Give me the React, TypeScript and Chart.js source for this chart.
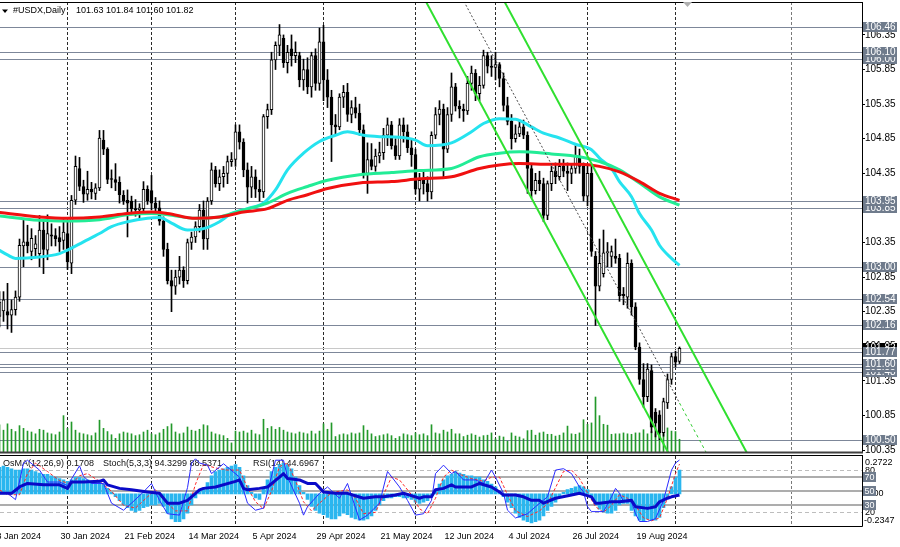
import React, { useEffect, useRef } from "react";
import { Chart, registerables } from "chart.js";
Chart.register(...registerables);

const FONT = "'Liberation Sans', Arial, sans-serif";
Chart.defaults.font.family = FONT;

// ---------- axis / label data ----------
const tickIdx = [0, 16, 32, 48, 64, 80, 96, 112, 128, 144, 160];
const tickLabels = ["8 Jan 2024", "30 Jan 2024", "21 Feb 2024", "14 Mar 2024", "5 Apr 2024", "29 Apr 2024", "21 May 2024", "12 Jun 2024", "4 Jul 2024", "26 Jul 2024", "19 Aug 2024"];
const monthSepIdx = [18, 39, 60, 82, 105, 125, 148, 170, 199];
const priceTicks = [100.35, 100.85, 101.35, 101.85, 102.35, 102.85, 103.35, 103.85, 104.35, 104.85, 105.35, 105.85, 106.35];
const levelPrices = [100.5, 101.48, 101.55, 101.6, 101.77, 102.16, 102.54, 103.0, 103.85, 103.95, 106.0, 106.1, 106.46];
const lastPrice = 101.82;
const symbolTitle = "#USDX,Daily";
const headerOHLC = "101.63 101.84 101.60 101.82";
const indTitles = ["OsMA(12,26,9) 0.1708", "Stoch(5,3,3) 94.3299 88.5371", "RSI(14) 44.6967"];
const osmaRange = [-0.2347, 0.2722];
const oscLevelsDashed = [80, 20];
const oscLevelsSolid = [70, 50, 30];

// ---------- candles [open, high, low, close], 8 Jan 2024 .. 3 Sep 2024 ----------
const candles: number[][] = [
  // Jan
  [102.40, 102.50, 102.15, 102.20], [102.28, 102.64, 102.13, 102.49], [102.36, 102.64, 102.21, 102.52], [102.35, 102.76, 102.10, 102.30],
  [102.30, 102.52, 102.05, 102.38], [102.38, 102.65, 102.30, 102.56], [102.56, 103.40, 102.50, 103.31], [103.30, 103.67, 103.00, 103.36],
  [103.36, 103.60, 103.20, 103.30], [103.22, 103.55, 103.10, 103.41], [103.26, 103.45, 103.15, 103.33], [103.19, 103.74, 103.00, 103.53],
  [103.53, 103.67, 102.90, 103.25], [103.24, 103.75, 103.10, 103.48], [103.46, 103.62, 103.30, 103.44], [103.45, 103.55, 103.30, 103.40],
  [103.42, 103.58, 103.22, 103.36], [103.38, 103.68, 103.25, 103.50],
  // Feb
  [103.48, 103.67, 102.96, 103.07], [103.05, 104.03, 102.90, 103.96], [103.96, 104.60, 103.90, 104.45], [104.42, 104.58, 104.10, 104.16],
  [104.16, 104.25, 103.93, 104.05], [104.05, 104.38, 103.96, 104.12], [104.12, 104.22, 103.98, 104.08], [104.06, 104.20, 103.97, 104.14],
  [104.14, 104.97, 104.10, 104.86], [104.83, 104.97, 104.62, 104.70], [104.70, 104.72, 104.20, 104.26], [104.27, 104.40, 104.14, 104.26],
  [104.26, 104.49, 104.10, 104.22], [104.22, 104.30, 103.92, 104.04], [104.03, 104.10, 103.90, 103.95], [103.96, 104.11, 103.43, 103.92],
  [103.95, 104.02, 103.78, 103.84], [103.84, 103.97, 103.73, 103.82], [103.82, 103.91, 103.70, 103.85], [103.84, 104.23, 103.80, 104.12],
  [104.12, 104.17, 103.90, 103.95],
  // Mar
  [104.10, 104.32, 103.82, 103.92], [103.92, 104.00, 103.78, 103.85], [103.85, 103.95, 103.60, 103.66], [103.66, 103.72, 103.15, 103.25],
  [103.25, 103.34, 102.75, 102.80], [102.80, 102.95, 102.35, 102.72], [102.72, 102.95, 102.60, 102.85], [102.85, 103.15, 102.75, 102.95],
  [102.95, 103.00, 102.70, 102.80], [102.80, 103.40, 102.75, 103.35], [103.35, 103.50, 103.25, 103.43], [103.43, 103.65, 103.35, 103.58],
  [103.58, 103.90, 103.50, 103.82], [103.82, 103.95, 103.25, 103.40], [103.40, 104.00, 103.25, 103.95], [103.95, 104.50, 103.90, 104.40],
  [104.40, 104.45, 104.15, 104.20], [104.20, 104.40, 104.10, 104.30], [104.30, 104.45, 104.15, 104.35], [104.35, 104.60, 104.20, 104.52],
  [104.52, 104.65, 104.45, 104.55],
  // Apr
  [104.55, 105.05, 104.45, 104.95], [104.95, 105.05, 104.70, 104.80], [104.80, 104.85, 104.30, 104.40], [104.40, 104.50, 103.92, 104.15],
  [104.15, 104.45, 104.00, 104.30], [104.30, 104.40, 104.00, 104.12], [104.12, 104.25, 103.95, 104.08], [104.08, 105.20, 104.00, 105.17],
  [105.17, 105.35, 105.00, 105.27], [105.27, 106.10, 105.20, 105.99], [105.99, 106.25, 105.85, 106.20], [106.20, 106.50, 106.05, 106.35],
  [106.30, 106.35, 105.88, 105.95], [105.95, 106.20, 105.80, 106.10], [106.15, 106.35, 105.90, 106.05], [106.05, 106.25, 105.95, 106.10],
  [106.05, 106.10, 105.60, 105.70], [105.70, 106.00, 105.55, 105.85], [105.85, 106.02, 105.50, 105.60], [105.60, 106.10, 105.45, 106.05],
  [106.05, 106.15, 105.55, 105.65], [105.65, 106.45, 105.55, 106.25],
  // May
  [106.25, 106.49, 105.40, 105.70], [105.70, 105.85, 105.30, 105.45], [105.45, 105.55, 104.52, 105.05], [105.05, 105.20, 104.90, 105.02],
  [105.02, 105.50, 104.98, 105.45], [105.45, 105.62, 105.30, 105.52], [105.52, 105.65, 105.10, 105.20], [105.20, 105.40, 105.08, 105.30],
  [105.30, 105.45, 105.15, 105.22], [105.22, 105.35, 104.90, 104.98], [104.98, 105.05, 104.28, 104.35], [104.35, 104.79, 104.06, 104.55],
  [104.55, 104.78, 104.40, 104.45], [104.45, 104.70, 104.38, 104.60], [104.60, 104.80, 104.50, 104.65], [104.65, 105.00, 104.55, 104.90],
  [104.90, 105.15, 104.75, 105.05], [105.05, 105.10, 104.70, 104.75], [104.75, 104.85, 104.55, 104.60], [104.60, 105.14, 104.55, 105.05],
  [105.05, 105.15, 104.80, 104.95], [104.95, 105.05, 104.65, 104.72], [104.72, 104.85, 104.45, 104.62],
  // Jun
  [104.62, 104.70, 104.05, 104.12], [104.12, 104.35, 103.95, 104.25], [104.25, 104.40, 104.05, 104.20], [104.20, 104.30, 103.95, 104.08],
  [104.08, 104.95, 103.98, 104.90], [104.90, 105.30, 104.85, 105.20], [105.20, 105.40, 105.05, 105.28], [105.28, 105.35, 104.30, 104.70],
  [104.70, 105.30, 104.65, 105.20], [105.20, 105.80, 105.10, 105.60], [105.60, 105.65, 105.25, 105.32], [105.32, 105.40, 105.15, 105.28],
  [105.28, 105.35, 105.10, 105.25], [105.25, 105.75, 105.20, 105.65], [105.65, 105.90, 105.55, 105.80], [105.80, 105.85, 105.40, 105.50],
  [105.50, 105.75, 105.40, 105.62], [105.62, 106.13, 105.58, 106.05], [106.05, 106.10, 105.80, 105.90], [105.90, 106.05, 105.75, 105.88],
  // Jul
  [105.88, 106.10, 105.70, 105.92], [105.92, 105.95, 105.60, 105.72], [105.72, 105.80, 105.25, 105.33], [105.33, 105.45, 105.05, 105.10],
  [105.10, 105.20, 104.70, 104.85], [104.85, 105.05, 104.80, 104.92], [104.92, 105.12, 104.88, 105.02], [105.02, 105.12, 104.85, 104.90],
  [104.90, 104.95, 104.06, 104.42], [104.42, 104.48, 104.00, 104.10], [104.10, 104.35, 104.05, 104.25], [104.25, 104.38, 104.10, 104.20],
  [104.20, 104.28, 103.65, 103.74], [103.74, 104.24, 103.68, 104.20], [104.20, 104.45, 104.10, 104.38], [104.38, 104.50, 104.20, 104.30],
  [104.30, 104.55, 104.25, 104.45], [104.45, 104.55, 104.30, 104.38], [104.38, 104.50, 104.10, 104.35], [104.35, 104.48, 104.20, 104.42],
  [104.42, 104.75, 104.35, 104.60], [104.60, 104.70, 104.35, 104.45], [104.45, 104.50, 103.95, 104.02],
  // Aug
  [104.02, 104.48, 103.88, 104.35], [104.35, 104.45, 103.15, 103.22], [103.15, 103.22, 102.15, 102.72], [102.72, 103.40, 102.65, 103.05],
  [102.90, 103.53, 102.85, 103.20], [103.20, 103.35, 103.00, 103.22], [103.15, 103.30, 103.00, 103.22], [103.15, 103.40, 103.05, 103.12],
  [103.12, 103.18, 102.50, 102.58], [102.60, 102.70, 102.45, 102.58], [102.56, 103.20, 102.40, 103.05], [103.05, 103.10, 102.30, 102.42],
  [102.42, 102.48, 101.80, 101.84], [101.84, 101.90, 101.30, 101.37], [101.37, 101.60, 100.97, 101.12], [101.12, 101.60, 101.05, 101.52],
  [101.50, 101.58, 100.60, 100.68], [100.90, 100.95, 100.54, 100.74], [100.86, 100.92, 100.50, 100.60], [100.60, 101.10, 100.55, 101.05],
  [101.03, 101.45, 100.95, 101.37], [101.37, 101.75, 101.30, 101.70],
  // Sep
  [101.70, 101.78, 101.55, 101.62], [101.63, 101.84, 101.60, 101.82],
];

// tick volume (thousands)
const volumes = [
  55, 60, 48, 62, 50, 45, 58, 52, 46, 44, 40,
  50, 48, 42, 40, 38, 44, 80, 52, 66, 48, 42,
  40, 38, 36, 42, 70, 52, 45, 38, 30, 40, 44,
  42, 40, 36, 38, 44, 48, 40, 38, 42, 50, 56,
  62, 44, 40, 42, 55, 48, 46, 50, 60, 58, 44,
  40, 38, 36, 30, 20, 46, 44, 46, 42, 48, 40,
  38, 72, 52, 56, 50, 54, 48, 44, 42, 40, 44,
  42, 40, 46, 40, 46, 62, 50, 64, 34, 38, 40,
  38, 42, 40, 42, 58, 48, 40, 34, 36, 38, 40,
  36, 30, 34, 40, 38, 36, 42, 38, 40, 36, 60,
  42, 40, 48, 44,
  50, 40, 40, 34, 37, 40, 37, 33, 36, 37,
  42, 29, 35, 33, 24, 42, 35, 33, 29, 47,
  48, 37, 42, 44, 39, 39, 35, 37, 42, 57,
  40, 39, 42, 71, 61, 64, 121, 80, 61, 59,
  39, 40, 40, 42, 40, 39, 42, 42, 49, 40,
  45, 40, 45, 45, 53, 46, 45, 28,
];

// moving averages [bar index, value]
const maCyan = [[0, 103.27], [3, 103.17], [5, 103.12], [11, 103.14], [16, 103.19], [18, 103.24], [22, 103.36], [26, 103.48], [29, 103.58], [33, 103.65], [38, 103.70], [41, 103.71], [44, 103.63], [48, 103.53], [52, 103.55], [56, 103.65], [59, 103.77], [63, 103.84], [67, 103.92], [70, 104.11], [73, 104.40], [77, 104.64], [81, 104.81], [85, 104.90], [88, 104.95], [92, 104.90], [96, 104.88], [101, 104.87], [105, 104.83], [108, 104.75], [114, 104.79], [119, 104.95], [122, 105.07], [126, 105.14], [130, 105.13], [134, 105.02], [137, 104.93], [141, 104.86], [145, 104.77], [149, 104.69], [151, 104.57], [154, 104.42], [156, 104.23], [159, 104.01], [161, 103.77], [164, 103.53], [166, 103.31], [169, 103.12], [171, 103.02]];
const maGreen = [[0, 103.74], [11, 103.67], [18, 103.66], [26, 103.68], [33, 103.75], [39, 103.77], [43, 103.75], [50, 103.70], [56, 103.72], [62, 103.82], [68, 103.92], [73, 104.06], [78, 104.16], [83, 104.25], [91, 104.33], [99, 104.36], [106, 104.39], [114, 104.42], [121, 104.59], [126, 104.64], [131, 104.66], [139, 104.63], [146, 104.59], [151, 104.52], [156, 104.40], [161, 104.21], [166, 104.01], [171, 103.89]];
const maRed = [[0, 103.79], [11, 103.72], [18, 103.70], [26, 103.72], [33, 103.77], [39, 103.79], [43, 103.77], [50, 103.70], [56, 103.72], [62, 103.79], [68, 103.84], [73, 103.96], [78, 104.04], [83, 104.13], [91, 104.21], [99, 104.23], [106, 104.27], [114, 104.30], [121, 104.42], [126, 104.47], [131, 104.49], [139, 104.48], [146, 104.48], [151, 104.45], [156, 104.37], [161, 104.23], [166, 104.06], [171, 103.96]];

// descending channel anchors [bar index, price]
const channelLower = [[100, 107.65], [175, 99.58]];
const channelUpper = [[120, 107.61], [195, 99.54]];
const channelMidPast = [[110, 107.60], [171, 101.03]];
const channelMidFuture = [[171, 101.03], [185, 99.53]];

// oscillators
const osma = [
  0.17, 0.19, 0.20, 0.19, 0.18, 0.17, 0.17, 0.18, 0.18, 0.17, 0.16, 0.15, 0.14, 0.14, 0.13, 0.12, 0.11, 0.10, 0.09, 0.10,
  0.12, 0.12, 0.11, 0.10, 0.09, 0.08, 0.09, 0.07, 0.04, 0.01, -0.02, -0.05, -0.08, -0.10, -0.12, -0.13, -0.12, -0.10, -0.09, -0.08,
  -0.08, -0.07, -0.09, -0.14, -0.18, -0.20, -0.20, -0.18, -0.14, -0.08, -0.03, 0.02, 0.04, 0.08, 0.13, 0.16, 0.17, 0.18, 0.19, 0.20,
  0.21, 0.19, 0.13, 0.06, 0.01, -0.03, -0.04, 0.04, 0.10, 0.16, 0.19, 0.21, 0.22, 0.21, 0.18, 0.12, 0.06, 0.01, -0.04, -0.09,
  -0.12, -0.14, -0.15, -0.17, -0.18, -0.18, -0.16, -0.14, -0.15, -0.17, -0.18, -0.19, -0.19, -0.18, -0.16, -0.12, -0.08, -0.05, -0.03, -0.03,
  -0.02, -0.02, -0.03, -0.03, -0.04, -0.06, -0.07, -0.06, -0.05, -0.01, 0.03, 0.07, 0.10, 0.13, 0.14, 0.16, 0.15, 0.14, 0.13, 0.13,
  0.12, 0.12, 0.10, 0.09, 0.07, 0.05, 0.02, -0.02, -0.06, -0.10, -0.14, -0.17, -0.19, -0.20, -0.21, -0.20, -0.19, -0.16, -0.12, -0.09,
  -0.06, -0.02, 0.01, 0.03, 0.04, 0.05, 0.06, 0.05, 0.03, -0.03, -0.08, -0.11, -0.13, -0.14, -0.14, -0.12, -0.08, -0.07, -0.07, -0.12,
  -0.16, -0.19, -0.20, -0.18, -0.19, -0.19, -0.17, -0.10, -0.03, 0.05, 0.12, 0.17,
];
const stochMain = [[0, 47], [3, 47], [5, 38], [7, 90], [8, 94], [11, 80], [13, 63], [16, 63], [18, 58], [21, 86], [22, 71], [24, 61], [27, 61], [29, 33], [32, 23], [34, 33], [37, 49], [39, 61], [41, 37], [43, 18], [46, 16], [48, 55], [49, 90], [50, 96], [51, 90], [53, 87], [54, 75], [57, 89], [61, 70], [63, 33], [65, 23], [67, 26], [70, 94], [72, 94], [73, 70], [76, 33], [77, 16], [78, 28], [81, 47], [83, 56], [86, 40], [88, 61], [91, 9], [93, 16], [96, 33], [98, 78], [101, 56], [103, 37], [105, 16], [107, 18], [109, 37], [110, 75], [112, 87], [114, 75], [115, 78], [117, 66], [120, 66], [122, 61], [124, 80], [125, 70], [127, 47], [128, 23], [130, 12], [133, 18], [135, 28], [138, 42], [140, 80], [142, 82], [144, 75], [146, 56], [147, 49], [148, 28], [149, 21], [152, 21], [154, 42], [155, 54], [156, 47], [157, 35], [159, 35], [160, 18], [161, 7], [163, 7], [165, 11], [167, 37], [169, 80], [170, 90], [171, 94.33]];
const stochSignal = [[0, 55], [3, 45], [6, 45], [8, 75], [10, 90], [13, 78], [16, 65], [19, 60], [21, 72], [23, 75], [26, 64], [29, 50], [32, 30], [35, 26], [38, 42], [40, 52], [42, 38], [45, 22], [48, 22], [50, 60], [52, 88], [55, 83], [58, 80], [61, 80], [63, 55], [65, 35], [67, 25], [69, 50], [71, 85], [73, 90], [75, 65], [77, 35], [79, 22], [81, 33], [84, 48], [86, 50], [88, 52], [90, 40], [92, 18], [95, 20], [97, 45], [99, 70], [101, 66], [104, 45], [106, 25], [108, 18], [110, 40], [112, 70], [114, 80], [116, 74], [119, 68], [122, 64], [124, 70], [126, 70], [128, 45], [130, 22], [133, 14], [136, 22], [138, 32], [140, 55], [142, 78], [144, 80], [146, 68], [148, 48], [150, 28], [152, 20], [154, 30], [156, 45], [158, 40], [160, 30], [162, 12], [164, 8], [166, 12], [168, 40], [170, 75], [171, 88.54]];
const rsi = [[0, 47], [4, 47], [6, 56], [8, 61], [12, 59], [16, 59], [18, 54], [19, 63], [22, 63], [26, 64], [27, 66], [28, 59], [31, 54], [34, 52], [38, 49], [41, 47], [43, 33], [46, 33], [48, 37], [51, 52], [52, 54], [55, 56], [60, 64], [61, 66], [62, 54], [63, 52], [66, 54], [68, 56], [71, 70], [72, 75], [73, 68], [76, 66], [78, 61], [80, 61], [82, 49], [85, 47], [88, 47], [92, 40], [95, 42], [97, 42], [100, 44.5], [102, 47], [105, 42], [106, 40], [107, 42], [109, 42], [110, 52], [112, 54], [114, 59], [115, 56], [119, 56], [121, 61], [124, 56], [126, 49], [127, 44.5], [130, 44.5], [132, 42], [134, 37], [136, 37], [137, 33], [140, 40], [144, 44.5], [146, 47], [149, 42], [150, 33], [151, 33], [154, 35], [156, 35], [159, 37], [160, 28], [163, 25.6], [165, 28], [166, 35], [168, 40], [169, 42], [171, 44.7]];

// ---------- layout constants ----------
const X_MIN = 1.125;
const X_MAX = 216.625;
const Y_MIN = 100.322;
const Y_MAX = 106.826;

const xy = (pts: number[][]) => pts.map(([x, y]) => ({ x, y }));
const noPad = (s: any) => { s.paddingLeft = 0; s.paddingRight = 0; s.paddingTop = 0; s.paddingBottom = 0; };

function drawSeparators(ctx: any, x: any, top: number, bottom: number) {
  ctx.save();
  ctx.lineWidth = 1;
  ctx.setLineDash([3, 2]);
  monthSepIdx.forEach((idx, k) => {
    const px = Math.round(x.getPixelForValue(idx) - 0.5) + 0.5;
    ctx.strokeStyle = k === monthSepIdx.length - 1 ? "#7a7a7a" : "#2a2a2a";
    ctx.beginPath();
    ctx.moveTo(px, top);
    ctx.lineTo(px, bottom);
    ctx.stroke();
  });
  ctx.restore();
}

function labelBox(ctx: any, text: string, y: number, x0: number, w: number, bg: string, size: number) {
  ctx.fillStyle = bg;
  ctx.fillRect(x0, Math.round(y) - 5, w, 10);
  ctx.fillStyle = "#ffffff";
  ctx.font = `${size}px ${FONT}`;
  ctx.textBaseline = "middle";
  ctx.textAlign = "left";
  ctx.fillText(text, x0 + 2, Math.round(y) + 0.5);
}

const mainPlugin = {
  id: "mainDecor",
  beforeDatasetsDraw(chart: any) {
    const { ctx, chartArea: a, scales } = chart;
    drawSeparators(ctx, scales.x, a.top, a.bottom);
    ctx.save();
    ctx.lineWidth = 1;
    const ly = Math.round(scales.y.getPixelForValue(lastPrice)) + 0.5;
    ctx.strokeStyle = "#c8c8c8";
    ctx.beginPath(); ctx.moveTo(a.left, ly); ctx.lineTo(a.right, ly); ctx.stroke();
    ctx.strokeStyle = "#7d8799";
    levelPrices.forEach((p) => {
      const py = Math.round(scales.y.getPixelForValue(p)) + 0.5;
      ctx.beginPath(); ctx.moveTo(a.left, py); ctx.lineTo(a.right, py); ctx.stroke();
    });
    ctx.restore();
  },
  afterDraw(chart: any) {
    const { ctx, chartArea: a, scales } = chart;
    ctx.save();
    ctx.strokeStyle = "#000";
    ctx.lineWidth = 1;
    ctx.beginPath(); ctx.moveTo(0, Math.round(a.top) + 0.5); ctx.lineTo(a.right, Math.round(a.top) + 0.5); ctx.stroke();
    ctx.strokeStyle = "#404040";
    ctx.lineWidth = 2;
    ctx.beginPath(); ctx.moveTo(0, Math.round(a.bottom) + 0.5); ctx.lineTo(a.right + 1, Math.round(a.bottom) + 0.5); ctx.stroke();
    labelBox(ctx, lastPrice.toFixed(2), scales.y.getPixelForValue(lastPrice), 863, 34, "#000000", 10);
    levelPrices.forEach((p) => {
      labelBox(ctx, p.toFixed(2), scales.y.getPixelForValue(p), 863, 34, "#6f7b8c", 10);
    });
    ctx.fillStyle = "#000";
    ctx.beginPath(); ctx.moveTo(2, 9.5); ctx.lineTo(8, 9.5); ctx.lineTo(5, 13); ctx.closePath(); ctx.fill();
    ctx.font = `9px ${FONT}`;
    ctx.textBaseline = "middle";
    ctx.textAlign = "left";
    ctx.fillText(symbolTitle, 13, 11);
    ctx.fillText(headerOHLC, 76, 11);
    ctx.fillStyle = "#b0b0b0";
    ctx.beginPath(); ctx.moveTo(683, 2); ctx.lineTo(692, 2); ctx.lineTo(687.5, 7); ctx.closePath(); ctx.fill();
    ctx.restore();
  },
};

const indPlugin = {
  id: "indDecor",
  beforeDatasetsDraw(chart: any) {
    const { ctx, chartArea: a, scales } = chart;
    drawSeparators(ctx, scales.x, a.top, a.bottom);
    ctx.save();
    ctx.lineWidth = 1;
    ctx.setLineDash([4, 3]);
    ctx.strokeStyle = "#bdbdbd";
    oscLevelsDashed.forEach((v) => {
      const py = Math.round(scales.yp.getPixelForValue(v)) + 0.5;
      ctx.beginPath(); ctx.moveTo(a.left, py); ctx.lineTo(a.right, py); ctx.stroke();
    });
    ctx.setLineDash([]);
    ctx.lineWidth = 2;
    ctx.strokeStyle = "#adadad";
    oscLevelsSolid.forEach((v) => {
      const py = Math.round(scales.yp.getPixelForValue(v));
      ctx.beginPath(); ctx.moveTo(a.left, py); ctx.lineTo(a.right, py); ctx.stroke();
    });
    ctx.fillStyle = "#111";
    ctx.font = `9px ${FONT}`;
    ctx.textBaseline = "middle";
    ctx.textAlign = "left";
    ctx.fillText(indTitles[0], 3, 8.5);
    ctx.fillText(indTitles[1], 103, 8.5);
    ctx.fillText(indTitles[2], 253, 8.5);
    ctx.restore();
  },
  afterDraw(chart: any) {
    const { ctx, chartArea: a, scales } = chart;
    ctx.save();
    ctx.strokeStyle = "#000";
    ctx.lineWidth = 1;
    const top = 0.5;
    const bot = Math.round(a.bottom) + 0.5;
    ctx.beginPath();
    ctx.moveTo(0, top); ctx.lineTo(a.right + 0.5, top);
    ctx.moveTo(0, bot); ctx.lineTo(a.right + 0.5, bot);
    ctx.moveTo(Math.round(a.right) + 0.5, 0); ctx.lineTo(Math.round(a.right) + 0.5, bot);
    ctx.stroke();
    ctx.fillStyle = "#000";
    ctx.font = `9px ${FONT}`;
    ctx.textBaseline = "middle";
    ctx.textAlign = "left";
    ctx.fillText(osmaRange[1].toFixed(4), 865, a.top + 6.5);
    ctx.fillText(osmaRange[0].toFixed(4), 864, a.bottom - 5.5);
    oscLevelsDashed.forEach((v) => ctx.fillText(String(v), 865, scales.yp.getPixelForValue(v)));
    ctx.fillText("0.00", 866, scales.yo.getPixelForValue(0));
    oscLevelsSolid.forEach((v) => {
      const py = scales.yp.getPixelForValue(v);
      ctx.fillStyle = "#6f7b8c";
      ctx.fillRect(863, Math.round(py) - 5, 13, 10);
      ctx.fillStyle = "#fff";
      ctx.fillText(String(v), 864.5, Math.round(py) + 0.5);
    });
    ctx.restore();
  },
};

export default function App() {
  const mainRef = useRef<HTMLCanvasElement>(null);
  const indRef = useRef<HTMLCanvasElement>(null);

  useEffect(() => {
    const lineBase = { type: "line", pointRadius: 0, borderJoinStyle: "round", clip: 0, fill: false };
    const c1 = new Chart(mainRef.current as any, {
      type: "line",
      data: {
        datasets: [
          { ...lineBase, data: xy(channelLower), borderColor: "#2fe02f", borderWidth: 2, order: 0 },
          { ...lineBase, data: xy(channelUpper), borderColor: "#2fe02f", borderWidth: 2, order: 0 },
          { ...lineBase, data: xy(channelMidPast), borderColor: "#4a4a4a", borderWidth: 1, borderDash: [2, 2], order: 0 },
          { ...lineBase, data: xy(channelMidFuture), borderColor: "#33cc33", borderWidth: 1, borderDash: [3, 3], order: 0 },
          { ...lineBase, data: xy(maRed), borderColor: "#f01010", borderWidth: 3, cubicInterpolationMode: "monotone", order: 1 },
          { ...lineBase, data: xy(maGreen), borderColor: "#22ec96", borderWidth: 3, cubicInterpolationMode: "monotone", order: 1.5 },
          { ...lineBase, data: xy(maCyan), borderColor: "#25e3ef", borderWidth: 3, cubicInterpolationMode: "monotone", order: 2 },
          {
            type: "bar", data: candles.map((c, i) => ({ x: i, y: [c[0], c[3]] })),
            backgroundColor: candles.map((c) => (c[3] >= c[0] ? "#ffffff" : "#000000")),
            borderColor: "#000", borderWidth: 1, borderSkipped: false, barThickness: 3, grouped: false, minBarLength: 1, order: 3,
          },
          {
            type: "bar", data: candles.map((c, i) => ({ x: i, y: [c[2], c[1]] })),
            backgroundColor: "#000", barThickness: 1, grouped: false, order: 4,
          },
          {
            type: "bar", data: volumes.map((v, i) => ({ x: i, y: v })), yAxisID: "yv",
            backgroundColor: "#22992a", barThickness: 1, grouped: false, order: 5,
          },
        ],
      } as any,
      options: {
        animation: false,
        responsive: false,
        events: [],
        layout: { padding: { top: 2, bottom: 3, left: 0, right: 0 } },
        plugins: { legend: { display: false }, tooltip: { enabled: false } },
        scales: {
          x: { type: "linear", min: X_MIN, max: X_MAX, display: false, offset: false },
          y: {
            type: "linear", position: "right", min: Y_MIN, max: Y_MAX,
            afterBuildTicks: (s: any) => { s.ticks = priceTicks.map((v) => ({ value: v })); },
            afterFit: (s: any) => { s.width = 38; noPad(s); },
            ticks: { callback: (v: any) => Number(v).toFixed(2), font: { size: 10 }, color: "#000", padding: 0, autoSkip: false },
            grid: { drawOnChartArea: false, drawTicks: true, tickLength: 3, color: "#000" },
            border: { display: true, color: "#000" },
          },
          yv: { type: "linear", display: false, min: 0, max: 990 },
        },
      } as any,
      plugins: [mainPlugin],
    } as any);

    const c2 = new Chart(indRef.current as any, {
      type: "line",
      data: {
        datasets: [
          { ...lineBase, data: xy(rsi), yAxisID: "yp", borderColor: "#0a0ac8", borderWidth: 3, order: 0 },
          { ...lineBase, data: xy(stochMain), yAxisID: "yp", borderColor: "#2b2bff", borderWidth: 1, order: 1 },
          { ...lineBase, data: xy(stochSignal), yAxisID: "yp", borderColor: "#ff2a2a", borderWidth: 1, borderDash: [3, 2], order: 1 },
          {
            type: "bar", data: osma.map((v, i) => ({ x: i, y: v })), yAxisID: "yo",
            backgroundColor: "#2ab6ef", barThickness: 3, grouped: false, order: 3,
          },
        ],
      } as any,
      options: {
        animation: false,
        responsive: false,
        events: [],
        layout: { padding: { top: 1, bottom: 0, left: 0, right: 38 } },
        plugins: { legend: { display: false }, tooltip: { enabled: false } },
        scales: {
          x: {
            type: "linear", position: "bottom", min: X_MIN, max: X_MAX, offset: false,
            afterBuildTicks: (s: any) => { s.ticks = tickIdx.map((v) => ({ value: v })); },
            afterFit: (s: any) => { s.height = 20.6; noPad(s); },
            grid: { display: false, drawTicks: false, tickLength: 0 }, border: { display: false },
            ticks: {
              autoSkip: false, maxRotation: 0, minRotation: 0, align: "start", padding: 5, labelOffset: 1,
              font: { size: 9 }, color: "#000",
              callback: (_v: any, idx: number) => tickLabels[idx] ?? "",
            },
          },
          yo: { type: "linear", display: false, min: osmaRange[0], max: osmaRange[1] },
          yp: { type: "linear", display: false, min: 0, max: 100 },
        },
      } as any,
      plugins: [indPlugin],
    } as any);

    return () => { c1.destroy(); c2.destroy(); };
  }, []);

  return (
    <div style={{ position: "fixed", left: 0, top: 0, width: 900, height: 547, background: "#fff" }}>
      <canvas ref={mainRef} width={900} height={455} style={{ position: "absolute", left: 0, top: 0, width: 900, height: 455 }} />
      <canvas ref={indRef} width={900} height={92} style={{ position: "absolute", left: 0, top: 455, width: 900, height: 92 }} />
    </div>
  );
}
